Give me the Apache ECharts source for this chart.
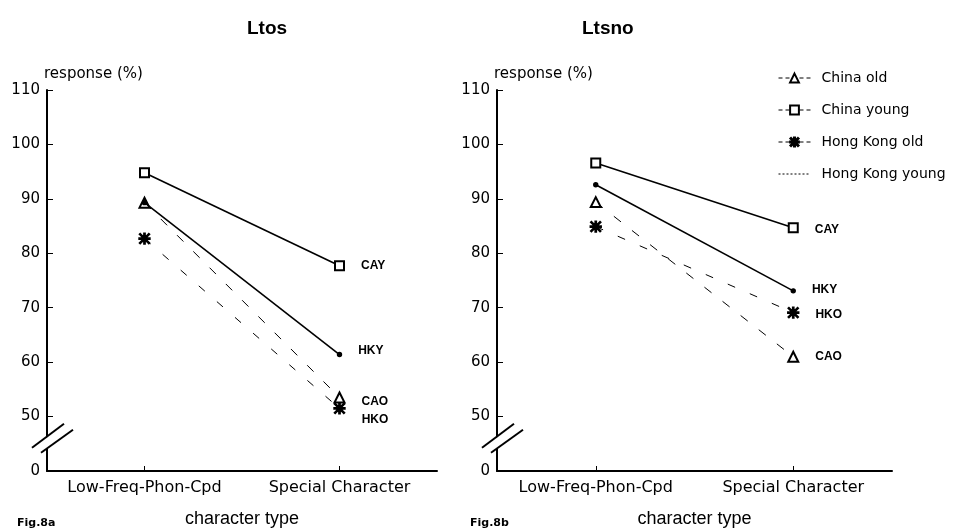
<!DOCTYPE html>
<html>
<head>
<meta charset="utf-8">
<script src="https://cdn.jsdelivr.net/npm/echarts@6/dist/echarts.min.js"></script>
<style>
html,body{margin:0;padding:0;background:#fff}
#main{width:969px;height:530px}
</style>
</head>
<body>
<div id="main"></div>
<script>
// categories and groups
var categories = ['Low-Freq-Phon-Cpd', 'Special Character'];
var groups = ['China old', 'China young', 'Hong Kong old', 'Hong Kong young'];
var endTags = ['CAO', 'CAY', 'HKO', 'HKY'];

// Ltos (Fig.8a), response %
var ltosChinaOld = [89.3, 53.5];
var ltosChinaYoung = [94.8, 77.7];
var ltosHkOld = [82.7, 51.5];
var ltosHkYoung = [89.3, 61.4];

// Ltsno (Fig.8b), response %
var ltsnoChinaOld = [89.4, 61.0];
var ltsnoChinaYoung = [96.6, 84.7];
var ltsnoHkOld = [84.9, 69.1];
var ltsnoHkYoung = [92.6, 73.1];

// y axis: value 40 stands for the broken "0"
var yMin = 40, yMax = 110, yStep = 10;

var chart = echarts.init(document.getElementById('main'));
var font = '"Liberation Sans", Arial, sans-serif';
var wide = '"DejaVu Sans", sans-serif';
var asterisk = 'path://M4.4 0h1.2v10h-1.2z M0 4.4h10v1.2h-10z M1.1 0.3L9.7 8.9L8.9 9.7L0.3 1.1z M8.9 0.3L9.7 1.1L1.1 9.7L0.3 8.9z';

var styles = [
  { symbol: 'emptyTriangle', symbolSize: 10, line: { width: 1, type: [9, 14] } },
  { symbol: 'emptyRect', symbolSize: 9, line: { width: 1.6, type: 'solid' } },
  { symbol: asterisk, symbolSize: 11, line: { width: 1, type: [8, 16] } },
  { symbol: 'circle', symbolSize: 4, line: { width: 1.6, type: 'solid' } }
];

function mkSeries(gi, k, values, offset) {
  var st = styles[k];
  return {
    name: groups[k],
    type: 'line',
    xAxisIndex: gi,
    yAxisIndex: gi,
    symbol: st.symbol,
    symbolSize: st.symbolSize,
    showAllSymbol: true,
    lineStyle: { color: '#000', width: st.line.width, type: st.line.type },
    itemStyle: { color: '#000', borderColor: '#000', borderWidth: 1.4 },
    z: 3 + k,
    data: values.map(function (v, i) {
      if (i !== 1) return v;
      return {
        value: v,
        label: {
          show: true, position: 'right', distance: 16, offset: offset || [0, 0],
          formatter: endTags[k], color: '#000', fontSize: 12, fontWeight: 'bold', fontFamily: font
        }
      };
    })
  };
}

function xAx(gi) {
  return {
    type: 'category', gridIndex: gi, data: categories,
    axisLine: { lineStyle: { color: '#000', width: 2 } },
    axisTick: { show: true, inside: true, alignWithLabel: true, interval: 0, length: 5, lineStyle: { color: '#000' } },
    axisLabel: { color: '#000', fontSize: 16, margin: 9, fontFamily: wide, interval: 0, hideOverlap: false },
    name: 'character type', nameLocation: 'middle', nameGap: 39,
    nameTextStyle: { color: '#000', fontSize: 18, fontFamily: font }
  };
}

function yAx(gi) {
  return {
    type: 'value', gridIndex: gi, min: yMin, max: yMax, interval: yStep,
    axisLine: { show: true, lineStyle: { color: '#000', width: 2 } },
    axisTick: { show: true, inside: true, length: 6, lineStyle: { color: '#000' } },
    axisLabel: { color: '#000', fontSize: 15, margin: 7, fontFamily: wide,
      formatter: function (v) { return v === yMin ? '0' : String(v); } },
    splitLine: { show: false },
    name: 'response (%)', nameLocation: 'end', nameGap: 8,
    nameTextStyle: { color: '#000', fontSize: 15, fontFamily: wide, align: 'left', padding: [0, 0, 0, -3] }
  };
}

var grids = [
  { left: 47, top: 90, width: 390, height: 381, outerBoundsMode: 'none', containLabel: false },
  { left: 497, top: 90, width: 395, height: 381, outerBoundsMode: 'none', containLabel: false }
];

chart.setOption({
  animation: false,
  backgroundColor: '#fff',
  textStyle: { fontFamily: font },
  title: [
    { text: 'Ltos', left: 247, top: 19, padding: 0, textStyle: { fontSize: 19, fontWeight: 'bold', color: '#000', fontFamily: font } },
    { text: 'Ltsno', left: 582, top: 19, padding: 0, textStyle: { fontSize: 19, fontWeight: 'bold', color: '#000', fontFamily: font } }
  ],
  legend: {
    data: [
      { name: 'China old', lineStyle: { type: [4, 3], width: 1 } },
      { name: 'China young', lineStyle: { type: [4, 3], width: 1 } },
      { name: 'Hong Kong old', lineStyle: { type: [4, 3], width: 1 } },
      { name: 'Hong Kong young', lineStyle: { type: [2, 2], width: 1 }, itemStyle: { opacity: 0 } }
    ],
    orient: 'vertical', left: 778, top: 71, padding: 0,
    itemWidth: 32, itemHeight: 11, itemGap: 18,
    textStyle: { color: '#000', fontSize: 14, fontFamily: wide, padding: [0, 0, 0, 6] },
    inactiveColor: '#000'
  },
  grid: grids,
  xAxis: [xAx(0), xAx(1)],
  yAxis: [yAx(0), yAx(1)],
  series: [
    mkSeries(0, 0, ltosChinaOld, [0, 4]),
    mkSeries(0, 1, ltosChinaYoung),
    mkSeries(0, 2, ltosHkOld, [0, 11]),
    mkSeries(0, 3, ltosHkYoung, [0, -4]),
    mkSeries(1, 0, ltsnoChinaOld),
    mkSeries(1, 1, ltsnoChinaYoung, [0, 2]),
    mkSeries(1, 2, ltsnoHkOld, [0, 2]),
    mkSeries(1, 3, ltsnoHkYoung, [0, -1])
  ]
});

// axis break marks "//" and figure captions
var deco = [];
grids.forEach(function (g, i) {
  var y = chart.convertToPixel({ yAxisIndex: i }, 46.3);
  var x = g.left;
  deco.push({
    type: 'polygon', z: 100,
    shape: { points: [[x - 14, y + 11], [x + 17, y - 12], [x + 25, y - 6], [x - 6, y + 16]] },
    style: { fill: '#fff' }
  });
  deco.push({
    type: 'line', z: 101,
    shape: { x1: x - 15, y1: y + 11, x2: x + 17, y2: y - 13 },
    style: { stroke: '#000', lineWidth: 2 }
  });
  deco.push({
    type: 'line', z: 101,
    shape: { x1: x - 6, y1: y + 16, x2: x + 26, y2: y - 7 },
    style: { stroke: '#000', lineWidth: 2 }
  });
});
deco.push({ type: 'text', left: 17, top: 518, style: { text: 'Fig.8a', fill: '#000', font: 'bold 11px ' + wide } });
deco.push({ type: 'text', left: 470, top: 518, style: { text: 'Fig.8b', fill: '#000', font: 'bold 11px ' + wide } });
chart.setOption({ graphic: deco });
</script>
</body>
</html>
